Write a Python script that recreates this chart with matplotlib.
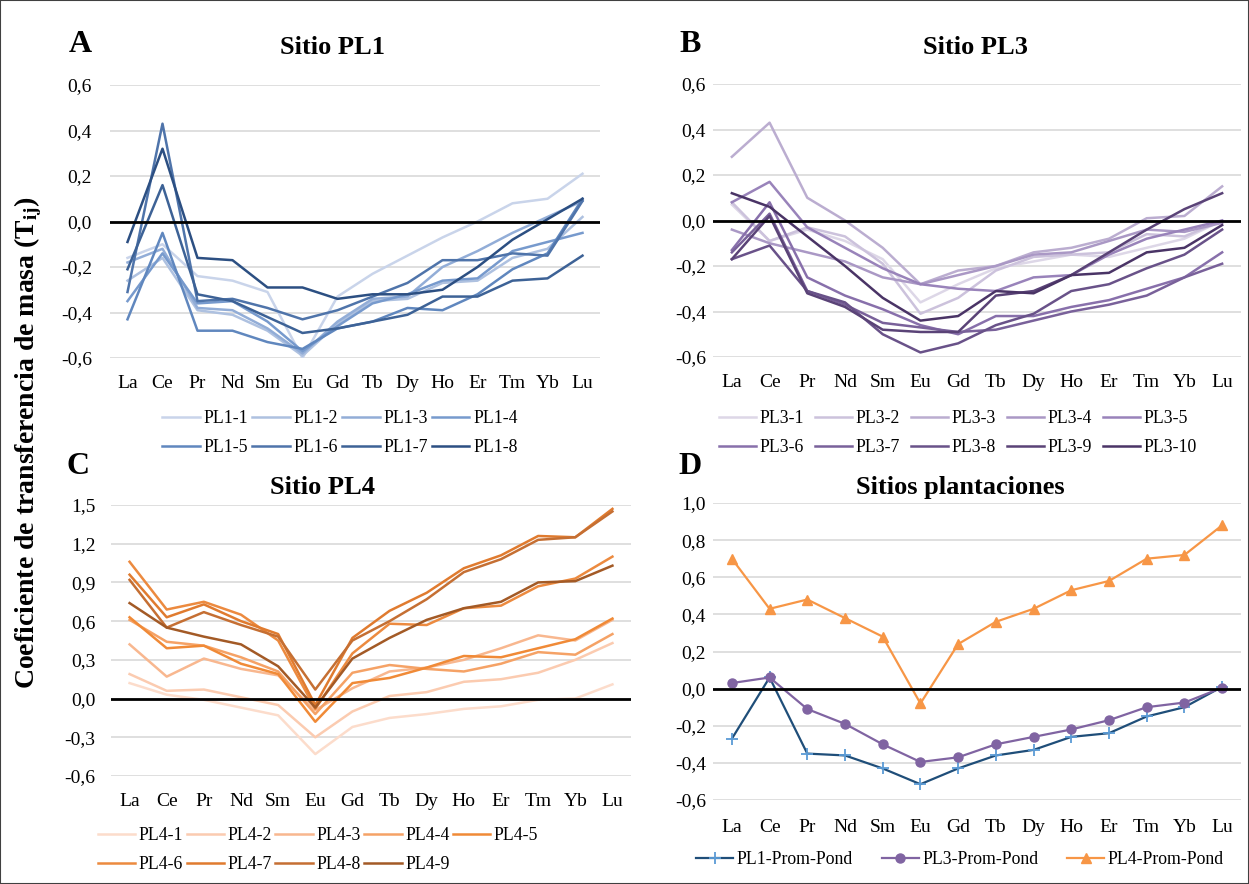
import matplotlib.pyplot as plt
import matplotlib.colors as mcolors
from matplotlib.patches import Rectangle
import numpy as np

plt.rcParams['font.family'] = ['Liberation Serif', 'DejaVu Serif']
plt.rcParams['mathtext.fontset'] = 'stix'

# data
ree = ['La', 'Ce', 'Pr', 'Nd', 'Sm', 'Eu', 'Gd', 'Tb', 'Dy', 'Ho', 'Er', 'Tm', 'Yb', 'Lu']

pl1_names = ['PL1-1', 'PL1-2', 'PL1-3', 'PL1-4', 'PL1-5', 'PL1-6', 'PL1-7', 'PL1-8']
pl1_vals = [
    [-0.16, -0.10, -0.24, -0.26, -0.31, -0.60, -0.33, -0.23, -0.15, -0.07, 0.00, 0.08, 0.10, 0.21],
    [-0.26, -0.16, -0.39, -0.41, -0.48, -0.59, -0.45, -0.35, -0.34, -0.27, -0.26, -0.16, -0.12, 0.02],
    [-0.18, -0.12, -0.38, -0.39, -0.47, -0.58, -0.44, -0.34, -0.33, -0.20, -0.13, -0.05, 0.02, 0.09],
    [-0.35, -0.14, -0.36, -0.35, -0.44, -0.57, -0.46, -0.36, -0.32, -0.26, -0.25, -0.13, -0.09, -0.05],
    [-0.43, -0.05, -0.48, -0.48, -0.53, -0.56, -0.47, -0.44, -0.38, -0.39, -0.32, -0.21, -0.14, 0.10],
    [-0.31, 0.43, -0.35, -0.34, -0.38, -0.43, -0.39, -0.33, -0.27, -0.17, -0.17, -0.14, -0.15, 0.09],
    [-0.21, 0.16, -0.32, -0.35, -0.42, -0.49, -0.47, -0.44, -0.41, -0.33, -0.33, -0.26, -0.25, -0.15],
    [-0.09, 0.32, -0.16, -0.17, -0.29, -0.29, -0.34, -0.32, -0.32, -0.30, -0.20, -0.08, 0.01, 0.10],
]

pl3_names = ['PL3-1', 'PL3-2', 'PL3-3', 'PL3-4', 'PL3-5', 'PL3-6', 'PL3-7', 'PL3-8', 'PL3-9', 'PL3-10']
pl3_vals = [
    [0.07, -0.09, -0.04, -0.09, -0.17, -0.36, -0.28, -0.21, -0.18, -0.15, -0.16, -0.12, -0.08, 0.00],
    [0.08, -0.09, -0.03, -0.07, -0.19, -0.41, -0.34, -0.22, -0.16, -0.15, -0.14, -0.06, -0.07, 0.00],
    [0.28, 0.43, 0.10, 0.00, -0.12, -0.28, -0.22, -0.20, -0.14, -0.12, -0.08, 0.01, 0.02, 0.15],
    [-0.04, -0.10, -0.14, -0.18, -0.25, -0.28, -0.24, -0.20, -0.15, -0.14, -0.09, -0.04, -0.05, -0.01],
    [0.08, 0.17, -0.03, -0.12, -0.21, -0.28, -0.30, -0.31, -0.25, -0.24, -0.15, -0.08, -0.04, 0.00],
    [-0.13, 0.08, -0.25, -0.33, -0.39, -0.46, -0.50, -0.42, -0.42, -0.38, -0.35, -0.30, -0.25, -0.14],
    [-0.14, 0.03, -0.31, -0.37, -0.45, -0.47, -0.49, -0.48, -0.44, -0.40, -0.37, -0.33, -0.25, -0.19],
    [-0.17, -0.11, -0.31, -0.36, -0.50, -0.58, -0.54, -0.46, -0.41, -0.31, -0.28, -0.21, -0.15, -0.04],
    [-0.17, 0.02, -0.32, -0.38, -0.48, -0.49, -0.49, -0.33, -0.31, -0.24, -0.14, -0.04, 0.05, 0.12],
    [0.12, 0.06, -0.07, -0.20, -0.34, -0.44, -0.42, -0.31, -0.32, -0.24, -0.23, -0.14, -0.12, -0.02],
]

pl4_names = ['PL4-1', 'PL4-2', 'PL4-3', 'PL4-4', 'PL4-5', 'PL4-6', 'PL4-7', 'PL4-8', 'PL4-9']
pl4_vals = [
    [0.12, 0.03, -0.01, -0.07, -0.13, -0.43, -0.22, -0.15, -0.12, -0.08, -0.06, -0.01, 0.00, 0.11],
    [0.19, 0.06, 0.07, 0.01, -0.05, -0.30, -0.10, 0.02, 0.05, 0.13, 0.15, 0.20, 0.30, 0.43],
    [0.42, 0.17, 0.31, 0.23, 0.18, -0.09, 0.08, 0.21, 0.24, 0.30, 0.39, 0.49, 0.45, 0.61],
    [0.61, 0.44, 0.41, 0.32, 0.21, -0.12, 0.20, 0.26, 0.23, 0.21, 0.27, 0.36, 0.34, 0.50],
    [0.63, 0.39, 0.41, 0.27, 0.19, -0.18, 0.12, 0.16, 0.24, 0.33, 0.32, 0.39, 0.46, 0.62],
    [1.06, 0.69, 0.75, 0.65, 0.45, -0.08, 0.35, 0.58, 0.57, 0.70, 0.72, 0.87, 0.93, 1.10],
    [0.96, 0.63, 0.73, 0.60, 0.50, -0.05, 0.47, 0.68, 0.82, 1.01, 1.11, 1.26, 1.25, 1.47],
    [0.92, 0.55, 0.67, 0.57, 0.48, 0.07, 0.45, 0.60, 0.77, 0.98, 1.08, 1.23, 1.25, 1.45],
    [0.74, 0.55, 0.48, 0.42, 0.25, -0.07, 0.31, 0.47, 0.61, 0.70, 0.75, 0.90, 0.91, 1.03],
]

avg_names = ['PL1-Prom-Pond', 'PL3-Prom-Pond', 'PL4-Prom-Pond']
pl1_avg = [-0.27, 0.06, -0.35, -0.36, -0.43, -0.515, -0.43, -0.36, -0.33, -0.26, -0.24, -0.15, -0.10, 0.01]
pl3_avg = [0.03, 0.06, -0.11, -0.19, -0.30, -0.395, -0.37, -0.30, -0.26, -0.22, -0.17, -0.10, -0.075, 0.005]
pl4_avg = [0.70, 0.43, 0.48, 0.38, 0.28, -0.08, 0.24, 0.36, 0.43, 0.53, 0.58, 0.70, 0.72, 0.88]

W, H = 1249, 884
fig = plt.figure(figsize=(W / 100, H / 100), dpi=100)


def px_axes(l, r, t, b):
    return fig.add_axes([l / W, 1 - b / H, (r - l) / W, (b - t) / H])


def shades(light, mid, dark, n):
    c1 = np.array(mcolors.to_rgb(light))
    c2 = np.array(mcolors.to_rgb(mid))
    c3 = np.array(mcolors.to_rgb(dark))
    out = []
    for i in range(n):
        t = i / (n - 1)
        if t < 0.5:
            out.append(tuple(c1 + (c2 - c1) * t * 2))
        else:
            out.append(tuple(c2 + (c3 - c2) * (t - 0.5) * 2))
    return out


def style(ax, ymin, ymax, step, xpad, ypad):
    ticks = np.round(np.arange(ymin, ymax + step / 2, step), 2)
    ax.set_ylim(ymin, ymax)
    ax.set_xlim(-0.5, len(ree) - 0.5)
    ax.set_yticks(ticks)
    ax.set_yticklabels([f'{v:.1f}'.replace('.', ',') for v in ticks])
    ax.set_xticks(range(len(ree)))
    ax.set_xticklabels(ree)
    ax.tick_params(length=0, labelsize=14)
    ax.tick_params(axis='x', pad=xpad)
    ax.tick_params(axis='y', pad=ypad)
    for s in ax.spines.values():
        s.set_visible(False)
    ax.grid(axis='y', color='#d9d9d9', lw=1.2)
    ax.set_axisbelow(True)
    ax.axhline(0, color='black', lw=2, zorder=5)


def rowwise(handles, labels, ncol):
    n = len(handles)
    nrow = int(np.ceil(n / ncol))
    order = [r * ncol + c for c in range(ncol) for r in range(nrow) if r * ncol + c < n]
    return [handles[i] for i in order], [labels[i] for i in order]


leg_kw = dict(loc='center', frameon=False, fontsize=12.8, handlelength=2.1,
              handletextpad=0.2, labelspacing=0.65)
x = np.arange(len(ree))

# A
axA = px_axes(110, 600, 85, 358)
cols = shades('#c9d4ea', '#6990c8', '#2c4f82', len(pl1_names))
for name, v, c in zip(pl1_names, pl1_vals, cols):
    axA.plot(x, v, color=c, lw=1.8, label=name)
style(axA, -0.6, 0.6, 0.2, 12, 13)
h, l = rowwise(*axA.get_legend_handles_labels(), 4)
fig.legend(h, l, ncol=4, bbox_to_anchor=(340 / W, 1 - 433 / H), columnspacing=0.25, **leg_kw)

# B
axB = px_axes(713, 1241, 84, 357)
cols = shades('#ddd7e7', '#9078b4', '#4a3466', len(pl3_names))
for name, v, c in zip(pl3_names, pl3_vals, cols):
    axB.plot(x, v, color=c, lw=1.8, label=name)
style(axB, -0.6, 0.6, 0.2, 12, 5)
h, l = rowwise(*axB.get_legend_handles_labels(), 5)
fig.legend(h, l, ncol=5, bbox_to_anchor=(958 / W, 1 - 433 / H), columnspacing=0.6, **leg_kw)

# C
axC = px_axes(111, 631, 505, 776)
cols = ['#fcdccb', '#fbcbb0', '#f8b78f', '#f5a266', '#f08a37',
        '#ec8a3f', '#e07b2f', '#c56f33', '#a35a26']
for name, v, c in zip(pl4_names, pl4_vals, cols):
    axC.plot(x, v, color=c, lw=1.8, label=name)
style(axC, -0.6, 1.5, 0.3, 12, 11)
h, l = rowwise(*axC.get_legend_handles_labels(), 5)
fig.legend(h, l, ncol=5, bbox_to_anchor=(318 / W, 1 - 850 / H), columnspacing=0.2, **leg_kw)

# D
axD = px_axes(713, 1241, 503, 800)
axD.plot(x, pl1_avg, color='#1f4e79', lw=1.6, marker='+', ms=8, mec='#5b9bd5', mew=1.3, label=avg_names[0])
axD.plot(x, pl3_avg, color='#8064a2', lw=1.6, marker='o', ms=6.5, label=avg_names[1])
axD.plot(x, pl4_avg, color='#f79646', lw=1.6, marker='^', ms=7.5, label=avg_names[2])
style(axD, -0.6, 1.0, 0.2, 14, 5)
h, l = axD.get_legend_handles_labels()
fig.legend(h, l, ncol=3, bbox_to_anchor=(960 / W, 1 - 860 / H), columnspacing=1.6, **leg_kw)

# titles and panel letters
for txt, xp, yp in [('Sitio PL1', 333, 48), ('Sitio PL3', 975, 48),
                    ('Sitio PL4', 322, 487), ('Sitios plantaciones', 960, 487)]:
    fig.text(xp / W, 1 - yp / H, txt, ha='center', va='center', fontsize=19, fontweight='bold')
for txt, xp, yp in [('A', 80, 45), ('B', 690, 45), ('C', 78, 467), ('D', 690, 467)]:
    fig.text(xp / W, 1 - yp / H, txt, ha='center', va='center', fontsize=23, fontweight='bold')

fig.text(28 / W, 1 - 443 / H, r'Coeficiente de transferencia de masa (T$_{\mathbf{ij}}$)',
         rotation=90, ha='center', va='center', fontsize=20, fontweight='bold')

fig.patches.append(Rectangle((0, 0), 1, 1, transform=fig.transFigure, fill=False,
                             edgecolor='#404040', lw=1.5))

plt.savefig('out.png', dpi=100)
